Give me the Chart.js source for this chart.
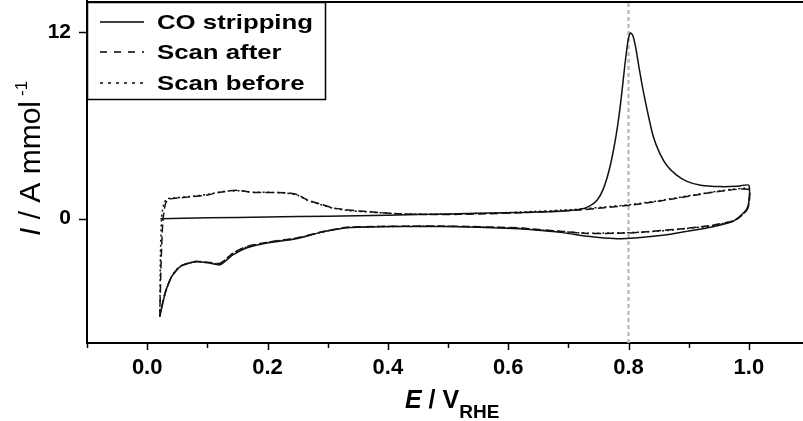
<!DOCTYPE html>
<html>
<head>
<meta charset="utf-8">
<script src="https://cdn.jsdelivr.net/npm/chart.js@4.4.1/dist/chart.umd.min.js"></script>
<style>
  html, body { margin: 0; padding: 0; background: #fff; }
  #wrap { width: 803px; height: 421px; }
</style>
</head>
<body>
<div id="wrap"><canvas id="cv" width="803" height="421"></canvas></div>
<script>
// --- data (E in V_RHE, I in A/mmol) ---
const coX = [0.022, 0.06, 0.1, 0.2, 0.3, 0.4, 0.5, 0.6, 0.68, 0.72, 0.735, 0.748, 0.758, 0.767, 0.775, 0.782, 0.788, 0.794, 0.799, 0.803, 0.807, 0.812, 0.818, 0.825, 0.832, 0.841, 0.852, 0.864, 0.88, 0.897, 0.92, 0.952, 0.98, 1.0,
  1.0, 0.996, 0.985, 0.974, 0.94, 0.897, 0.87, 0.841, 0.81, 0.786, 0.76, 0.731, 0.691, 0.65, 0.619, 0.55, 0.487, 0.453, 0.387, 0.332, 0.31, 0.287, 0.248, 0.199, 0.165, 0.143, 0.121, 0.104, 0.085, 0.077, 0.055, 0.041, 0.030, 0.021];
const coY = [0.0, 0.02, 0.05, 0.1, 0.16, 0.22, 0.3, 0.38, 0.46, 0.6, 0.8, 1.2, 1.9, 3.0, 4.4, 6.0, 7.8, 9.9, 11.4, 11.95, 11.8, 11.0, 9.6, 8.1, 6.8, 5.3, 4.2, 3.4, 2.8, 2.4, 2.15, 2.06, 2.08, 2.15,
  1.1, 0.58, 0.15, -0.17, -0.52, -0.82, -1.0, -1.14, -1.25, -1.29, -1.24, -1.14, -0.9, -0.75, -0.65, -0.55, -0.5, -0.5, -0.52, -0.58, -0.72, -0.9, -1.29, -1.57, -1.89, -2.32, -2.97, -2.86, -2.78, -2.79, -3.08, -3.72, -4.79, -6.3];

const afterX = [0.021, 0.023, 0.026, 0.030, 0.035, 0.05, 0.071, 0.1, 0.121, 0.149, 0.176, 0.2, 0.232, 0.25, 0.265, 0.287, 0.309, 0.335, 0.359, 0.415, 0.487, 0.55, 0.62, 0.714, 0.76, 0.802, 0.85, 0.897, 0.952, 1.0,
  1.0, 0.996, 0.985, 0.974, 0.94, 0.897, 0.85, 0.802, 0.76, 0.731, 0.691, 0.65, 0.619, 0.55, 0.487, 0.453, 0.387, 0.332, 0.31, 0.287, 0.248, 0.199, 0.165, 0.143, 0.121, 0.104, 0.085, 0.077, 0.055, 0.041, 0.030, 0.021];
const afterY = [-6.3, -3.0, -0.2, 0.9, 1.23, 1.32, 1.40, 1.52, 1.70, 1.83, 1.68, 1.68, 1.66, 1.55, 1.23, 0.95, 0.69, 0.55, 0.47, 0.32, 0.26, 0.3, 0.38, 0.55, 0.7, 0.86, 1.12, 1.42, 1.76, 1.87,
  0.9, 0.5, 0.1, -0.15, -0.42, -0.62, -0.78, -0.92, -0.95, -0.95, -0.82, -0.7, -0.6, -0.52, -0.48, -0.48, -0.5, -0.56, -0.7, -0.88, -1.25, -1.52, -1.8, -2.2, -2.88, -2.82, -2.75, -2.77, -3.05, -3.7, -4.75, -6.2];

const beforeX = [0.021, 0.022, 0.024, 0.028, 0.034, 0.05, 0.071, 0.1, 0.121, 0.149, 0.176, 0.2, 0.232, 0.25, 0.265, 0.287, 0.309, 0.335, 0.359, 0.415, 0.487, 0.55, 0.62, 0.714, 0.76, 0.802, 0.85, 0.897, 0.952, 1.0,
  1.0, 0.996, 0.985, 0.974, 0.94, 0.897, 0.85, 0.802, 0.76, 0.731, 0.691, 0.65, 0.619, 0.55, 0.487, 0.453, 0.387, 0.332, 0.31, 0.287, 0.248, 0.199, 0.165, 0.143, 0.121, 0.104, 0.085, 0.077, 0.055, 0.041, 0.030, 0.021];
const beforeY = [-6.3, -2.5, 0.1, 1.0, 1.28, 1.35, 1.42, 1.55, 1.72, 1.8, 1.7, 1.7, 1.64, 1.5, 1.2, 0.92, 0.67, 0.52, 0.45, 0.32, 0.28, 0.33, 0.42, 0.6, 0.75, 0.9, 1.15, 1.45, 1.78, 1.92,
  0.95, 0.52, 0.12, -0.14, -0.44, -0.64, -0.8, -0.9, -0.93, -0.94, -0.84, -0.72, -0.62, -0.53, -0.49, -0.49, -0.51, -0.57, -0.71, -0.89, -1.26, -1.54, -1.82, -2.22, -2.9, -2.84, -2.76, -2.78, -3.06, -3.7, -4.77, -6.3];

const markerX = [0.8, 0.8];
const markerY = [-8, 14];

const xTickValues = [0.0, 0.2, 0.4, 0.6, 0.8, 1.0];
const xMinorValues = [-0.1, 0.1, 0.3, 0.5, 0.7, 0.9];
const yTickValues = [0, 12];

const seriesNames = ['CO stripping', 'Scan after', 'Scan before'];
const seriesDash = [[], [8, 4], [2, 3]];
const legendDash = [[], [7, 7], [3, 5]];

function pts(xs, ys) {
  return xs.map((x, i) => ({ x: x, y: ys[i] }));
}

Chart.defaults.font.family = 'Arial, "Liberation Sans", sans-serif';
Chart.defaults.color = '#000';

// ticks, top frame, legend, axis titles
const decorPlugin = {
  id: 'decor',
  afterDraw(chart) {
    const ctx = chart.ctx;
    const xs = chart.scales.x, ys = chart.scales.y;
    const area = chart.chartArea;
    ctx.save();
    ctx.strokeStyle = '#000';
    ctx.lineWidth = 2;
    ctx.setLineDash([]);
    // top frame
    ctx.beginPath();
    ctx.moveTo(area.left, area.top + 1);
    ctx.lineTo(area.right, area.top + 1);
    ctx.stroke();
    // x ticks
    ctx.lineWidth = 1.5;
    xTickValues.forEach(v => {
      const px = Math.round(xs.getPixelForValue(v)) + 0.5;
      ctx.beginPath(); ctx.moveTo(px, area.bottom); ctx.lineTo(px, area.bottom + 7); ctx.stroke();
    });
    xMinorValues.forEach(v => {
      const px = Math.round(xs.getPixelForValue(v)) + 0.5;
      ctx.beginPath(); ctx.moveTo(px, area.bottom); ctx.lineTo(px, area.bottom + 5); ctx.stroke();
    });
    yTickValues.forEach(v => {
      const py = Math.round(ys.getPixelForValue(v)) + 0.5;
      ctx.beginPath(); ctx.moveTo(area.left, py); ctx.lineTo(area.left - 8, py); ctx.stroke();
    });

    // legend box
    const lx = area.left, ly = area.top + 1, lw = 238, lh = 97;
    ctx.fillStyle = '#fff';
    ctx.fillRect(lx, ly, lw, lh);
    ctx.lineWidth = 1.5;
    ctx.strokeRect(lx + 0.5, ly + 0.5, lw, lh);
    const rows = [22, 52, 83];
    ctx.font = 'bold 21px Arial, "Liberation Sans", sans-serif';
    const sx = 156 / ctx.measureText(seriesNames[0]).width;
    seriesNames.forEach((name, i) => {
      ctx.setLineDash(legendDash[i]);
      ctx.lineWidth = 1.5;
      ctx.beginPath(); ctx.moveTo(100, rows[i]); ctx.lineTo(144, rows[i]); ctx.stroke();
      ctx.setLineDash([]);
      ctx.save();
      ctx.translate(157, rows[i]);
      ctx.scale(sx, 1);
      ctx.fillStyle = '#000';
      ctx.textBaseline = 'middle';
      ctx.textAlign = 'left';
      ctx.fillText(name, 0, 1);
      ctx.restore();
    });

    // x title: E / V_RHE
    ctx.fillStyle = '#000';
    ctx.textBaseline = 'alphabetic';
    ctx.textAlign = 'left';
    let tx = 405;
    ctx.font = 'italic bold 25px Arial, "Liberation Sans", sans-serif';
    ctx.fillText('E', tx, 408); tx += ctx.measureText('E').width;
    ctx.font = 'bold 25px Arial, "Liberation Sans", sans-serif';
    ctx.fillText(' / V', tx, 408); tx += ctx.measureText(' / V').width;
    ctx.font = 'bold 19px Arial, "Liberation Sans", sans-serif';
    ctx.fillText('RHE', tx, 418);

    // y title: I / A mmol^-1
    ctx.save();
    ctx.translate(40, 236);
    ctx.rotate(-Math.PI / 2);
    let ty = 0;
    ctx.font = 'italic 30px Arial, "Liberation Sans", sans-serif';
    ctx.fillText('I', ty, 0); ty += ctx.measureText('I').width;
    ctx.font = '30px Arial, "Liberation Sans", sans-serif';
    ctx.fillText(' / A mmol', ty, 0); ty += ctx.measureText(' / A mmol').width + 5;
    ctx.font = '17px Arial, "Liberation Sans", sans-serif';
    ctx.fillText('-1', ty, -13);
    ctx.restore();
    ctx.restore();
  }
};

const lineStyle = { borderColor: '#111', borderWidth: 1.5, pointRadius: 0, showLine: true, fill: false, tension: 0.2 };

new Chart(document.getElementById('cv'), {
  type: 'scatter',
  data: {
    datasets: [
      Object.assign({ label: seriesNames[0], data: pts(coX, coY), order: 1 }, lineStyle),
      Object.assign({ label: seriesNames[1], data: pts(afterX, afterY), borderDash: seriesDash[1], order: 2 }, lineStyle),
      Object.assign({ label: seriesNames[2], data: pts(beforeX, beforeY), borderDash: seriesDash[2], order: 3 }, lineStyle),
      { label: 'marker', data: pts(markerX, markerY), showLine: true, pointRadius: 0, borderColor: '#bdbdbd', borderWidth: 2.5, borderDash: [4, 3], order: 4 }
    ]
  },
  options: {
    responsive: false,
    animation: false,
    layout: { padding: { top: 1, right: 0, left: 0, bottom: 0 } },
    plugins: { legend: { display: false }, tooltip: { enabled: false } },
    scales: {
      x: {
        type: 'linear',
        min: -0.1,
        max: 1.09,
        grid: { display: false },
        border: { display: true, color: '#000', width: 2 },
        afterBuildTicks: s => { s.ticks = xTickValues.map(v => ({ value: v })); },
        afterFit: s => { s.height = 78; s.paddingLeft = 0; s.paddingRight = 0; },
        ticks: {
          padding: 4,
          maxRotation: 0,
          font: { size: 22, weight: 'bold' },
          callback: v => Number(v).toFixed(1)
        }
      },
      y: {
        type: 'linear',
        min: -8,
        max: 14,
        grid: { display: false },
        border: { display: true, color: '#000', width: 2 },
        afterBuildTicks: s => { s.ticks = yTickValues.map(v => ({ value: v })); },
        afterFit: s => { s.width = 87; s.paddingTop = 0; s.paddingBottom = 0; },
        ticks: {
          padding: 8,
          font: { size: 21, weight: 'bold' },
          callback: v => String(v)
        }
      }
    }
  },
  plugins: [decorPlugin]
});
</script>
</body>
</html>
